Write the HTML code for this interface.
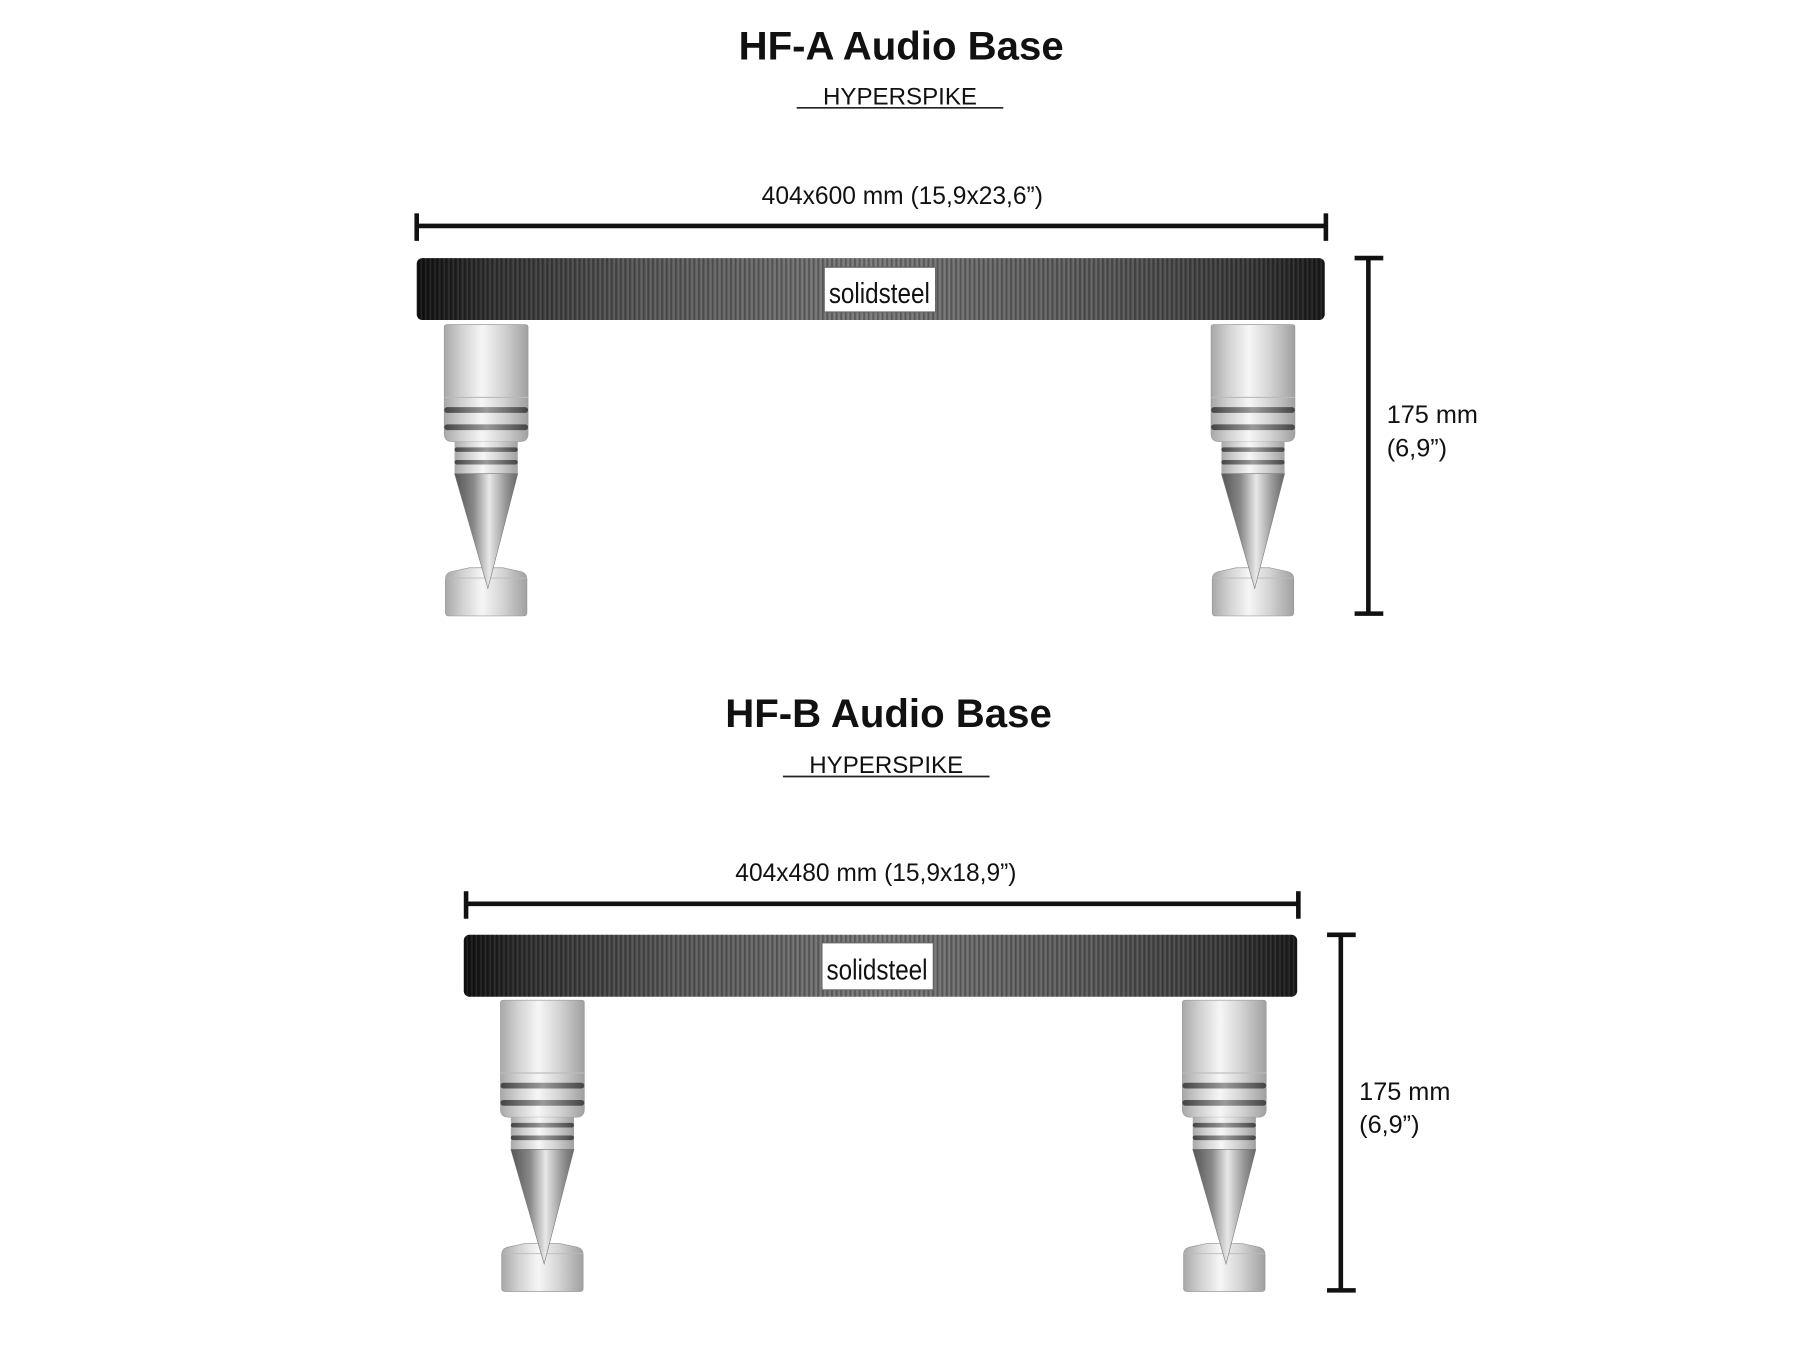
<!DOCTYPE html>
<html><head><meta charset="utf-8">
<style>html,body{margin:0;padding:0;background:#fff}svg{display:block}</style>
</head><body>
<svg width="1800" height="1350" viewBox="0 0 1568 1177" preserveAspectRatio="none" xmlns="http://www.w3.org/2000/svg">
<defs>
  <linearGradient id="bar" x1="0" x2="1" y1="0" y2="0">
    <stop offset="0" stop-color="#111"/>
    <stop offset="0.08" stop-color="#333"/>
    <stop offset="0.25" stop-color="#5a5a5a"/>
    <stop offset="0.5" stop-color="#7a7a7a"/>
    <stop offset="0.75" stop-color="#5c5c5c"/>
    <stop offset="0.92" stop-color="#3a3a3a"/>
    <stop offset="1" stop-color="#1a1a1a"/>
  </linearGradient>
  <pattern id="stripes" width="4" height="10" patternUnits="userSpaceOnUse">
    <rect x="0" y="0" width="1.5" height="10" fill="#000" opacity="0.25"/>
    <rect x="2.5" y="0" width="1" height="10" fill="#fff" opacity="0.08"/>
  </pattern>
  <linearGradient id="metal" x1="0" x2="1" y1="0" y2="0">
    <stop offset="0" stop-color="#a8a8a8"/>
    <stop offset="0.2" stop-color="#d0d0d0"/>
    <stop offset="0.45" stop-color="#f6f6f6"/>
    <stop offset="0.7" stop-color="#d4d4d4"/>
    <stop offset="1" stop-color="#a0a0a0"/>
  </linearGradient>
  <linearGradient id="cone" x1="0" x2="1" y1="0" y2="0">
    <stop offset="0" stop-color="#555"/>
    <stop offset="0.3" stop-color="#888"/>
    <stop offset="0.55" stop-color="#e8e8e8"/>
    <stop offset="0.8" stop-color="#999"/>
    <stop offset="1" stop-color="#666"/>
  </linearGradient>
  <linearGradient id="ring" x1="0" x2="1" y1="0" y2="0">
    <stop offset="0" stop-color="#444"/>
    <stop offset="0.5" stop-color="#9a9a9a"/>
    <stop offset="1" stop-color="#444"/>
  </linearGradient>
  <g id="leg">
    <path d="M0,2 Q0,0 3,0 L70,0 Q73,0 73,2 L73,95 Q73,102 66,102 L7,102 Q0,102 0,95 Z" fill="url(#metal)" stroke="#999" stroke-width="0.6"/>
    <rect x="0" y="63" width="73" height="1" fill="#bbb"/>
    <rect x="0" y="72" width="73" height="5" rx="2.5" fill="url(#ring)"/>
    <rect x="0" y="87" width="73" height="5" rx="2.5" fill="url(#ring)"/>
    <rect x="9" y="102" width="55" height="28" fill="url(#metal)"/>
    <rect x="9" y="107" width="55" height="4" rx="2" fill="url(#ring)"/>
    <rect x="9" y="118" width="55" height="4" rx="2" fill="url(#ring)"/>
    <path d="M1,222 Q1,216 8,215 L22,212 L51,212 L65,215 Q72,216 72,222 L72,251 Q72,254 69,254 L4,254 Q1,254 1,251 Z" fill="url(#metal)" stroke="#999" stroke-width="0.6"/>
    <line x1="1" y1="221" x2="72" y2="221" stroke="#bbb" stroke-width="0.8"/>
    <path d="M9,130 L64,130 L38,230 Z" fill="url(#cone)" stroke="#777" stroke-width="0.5"/>
  </g>
</defs>

<g font-family="Liberation Sans, sans-serif" fill="#111" text-anchor="middle">
  <!-- HF-A -->
  <text x="785" y="52" font-size="35" font-weight="bold">HF-A Audio Base</text>
  <text x="784" y="91" font-size="21">HYPERSPIKE</text>
  <line x1="694" y1="94" x2="874" y2="94" stroke="#222" stroke-width="1.5"/>
  <text x="786" y="178" font-size="21.4">404x600 mm (15,9x23,6”)</text>
  <line x1="363" y1="197" x2="1155" y2="197" stroke="#111" stroke-width="4"/>
  <line x1="363" y1="186" x2="363" y2="210" stroke="#111" stroke-width="4"/>
  <line x1="1155" y1="186" x2="1155" y2="210" stroke="#111" stroke-width="4"/>
  <rect x="363" y="225" width="791" height="54" rx="5" fill="url(#bar)"/>
  <rect x="363" y="225" width="791" height="54" rx="5" fill="url(#stripes)"/>
  <rect x="718" y="233" width="97" height="39" fill="#fff" stroke="#666" stroke-width="1"/>
  <text x="766" y="264" font-size="25" textLength="88" lengthAdjust="spacingAndGlyphs">solidsteel</text>
  <use href="#leg" x="387" y="283"/>
  <use href="#leg" x="1055" y="283"/>
  <line x1="1192" y1="225" x2="1192" y2="535" stroke="#111" stroke-width="4"/>
  <line x1="1180" y1="225" x2="1205" y2="225" stroke="#111" stroke-width="4"/>
  <line x1="1180" y1="535" x2="1205" y2="535" stroke="#111" stroke-width="4"/>
  <text x="1208" y="369" font-size="22" text-anchor="start">175 mm</text>
  <text x="1208" y="398" font-size="22" text-anchor="start">(6,9”)</text>

  <!-- HF-B -->
  <text x="774" y="634" font-size="35" font-weight="bold">HF-B Audio Base</text>
  <text x="772" y="674" font-size="21">HYPERSPIKE</text>
  <line x1="682" y1="677" x2="862" y2="677" stroke="#222" stroke-width="1.5"/>
  <text x="763" y="768" font-size="21.4">404x480 mm (15,9x18,9”)</text>
  <line x1="406" y1="788" x2="1131" y2="788" stroke="#111" stroke-width="4"/>
  <line x1="406" y1="777" x2="406" y2="801" stroke="#111" stroke-width="4"/>
  <line x1="1131" y1="777" x2="1131" y2="801" stroke="#111" stroke-width="4"/>
  <rect x="404" y="815" width="726" height="54" rx="5" fill="url(#bar)"/>
  <rect x="404" y="815" width="726" height="54" rx="5" fill="url(#stripes)"/>
  <rect x="716" y="822" width="97" height="41" fill="#fff" stroke="#666" stroke-width="1"/>
  <text x="764" y="854" font-size="25" textLength="88" lengthAdjust="spacingAndGlyphs">solidsteel</text>
  <use href="#leg" x="436" y="872"/>
  <use href="#leg" x="1030" y="872"/>
  <line x1="1168" y1="815" x2="1168" y2="1125" stroke="#111" stroke-width="4"/>
  <line x1="1156" y1="815" x2="1181" y2="815" stroke="#111" stroke-width="4"/>
  <line x1="1156" y1="1125" x2="1181" y2="1125" stroke="#111" stroke-width="4"/>
  <text x="1184" y="959" font-size="22" text-anchor="start">175 mm</text>
  <text x="1184" y="988" font-size="22" text-anchor="start">(6,9”)</text>
</g>
</svg>
</body></html>
